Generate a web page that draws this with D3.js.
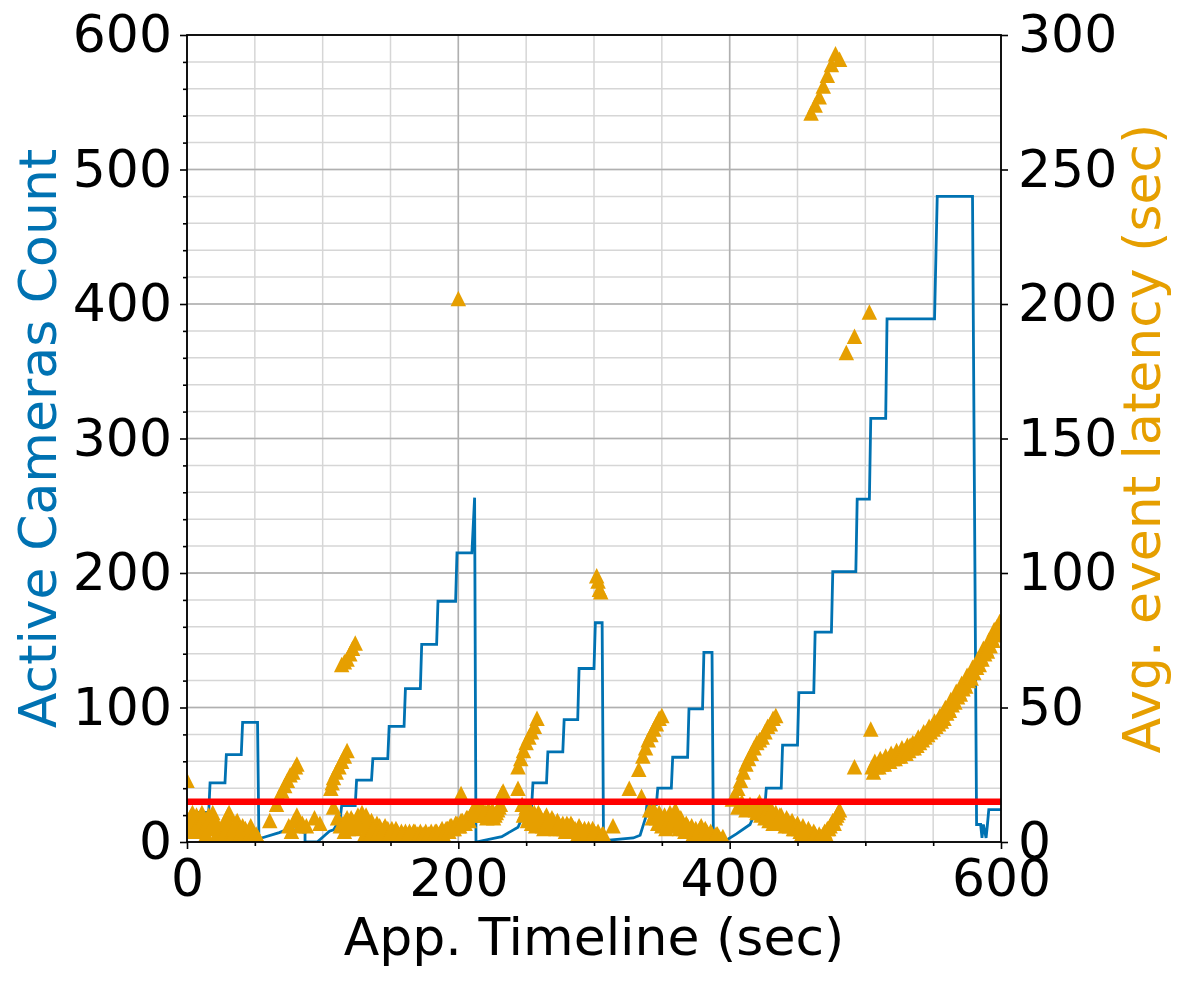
<!DOCTYPE html>
<html>
<head>
<meta charset="utf-8">
<script src="https://cdn.jsdelivr.net/npm/d3@7"></script>
<style>
  body { margin: 0; background: #fff; }
  svg { display: block; font-family: "DejaVu Sans", sans-serif; }
</style>
</head>
<body>
<div id="chart"></div>
<script>
// ── Data ───────────────────────────────────────────────────────────────────

var xTicks = [0, 200, 400, 600];
var leftTicks = [0, 100, 200, 300, 400, 500, 600];
var rightTicks = [0, 50, 100, 150, 200, 250, 300];
var sloLatency = 15; // red threshold, right axis (sec)

// [time (sec), active cameras]
var cameraPoints = [
  [0, 5], [7, 22], [16, 22], [17, 44], [28, 44], [29, 65], [40, 65], [41, 89], [52, 89], [53, 2],
  [55, 3], [68, 7], [73, 9], [80, 9], [87, 7], [87, 0], [96, 0], [105, 8], [108, 9], [111, 14],
  [113, 18], [114, 27], [124, 27], [125, 46], [136, 46], [137, 62], [148, 62], [149, 86], [160, 86],
  [161, 114], [172, 114], [173, 147], [184, 147], [185, 179], [198, 179], [199, 215], [210, 215],
  [212, 256], [213, 0], [232, 4], [244, 11], [247, 18], [249, 26], [254, 26], [255, 44], [265, 44],
  [266, 67], [277, 67], [278, 91], [288, 91], [289, 129], [300, 129], [301, 163], [306, 163], [307, 1],
  [329, 3], [334, 5], [338, 18], [339, 28], [346, 28], [347, 40], [357, 40], [358, 63], [369, 63],
  [370, 99], [380, 99], [381, 141], [387, 141], [388, 1], [397, 1], [405, 6], [415, 13], [418, 20],
  [420, 27], [426, 27], [427, 40], [438, 40], [439, 72], [450, 72], [451, 111], [462, 111], [463, 156],
  [475, 156], [476, 201], [493, 201], [494, 255], [503, 255], [504, 315], [515, 315], [516, 389],
  [551, 389], [553, 480], [579, 480], [582, 13], [585, 13], [586, 3], [587, 13], [589, 3], [590, 13],
  [591, 24], [600, 24]
];

// [time (sec), avg event latency (sec)]
var latencyPoints = [
  [0, 23], [1, 4], [2, 9], [3, 6], [4, 11], [5, 8], [6, 5], [7, 10], [8, 7], [9, 4], [10, 8], [11, 11],
  [12, 9], [13, 6], [14, 3], [15, 7], [16, 10], [17, 5], [18, 8], [19, 11], [20, 8], [21, 5], [22, 3],
  [23, 6], [24, 4], [25, 5], [26, 3], [27, 6], [28, 4], [29, 7], [30, 10], [31, 11], [32, 6], [33, 4],
  [34, 3], [35, 5], [36, 7], [37, 8], [38, 5], [39, 3], [40, 4], [41, 6], [42, 3], [43, 5], [44, 4],
  [45, 2], [46, 3], [47, 6], [48, 4], [49, 3], [50, 2], [51, 3], [52, 2], [53, 1],
  [61, 8], [66, 14], [68, 17], [70, 19], [72, 21], [74, 23], [76, 25], [78, 26], [80, 28], [81, 29],
  [75, 6], [77, 4], [79, 8], [81, 10], [83, 6], [85, 7], [88, 6], [94, 9],
  [98, 7], [106, 20], [107, 22], [108, 24], [110, 26], [112, 28], [114, 30], [116, 32], [118, 34],
  [108, 13], [111, 9], [113, 6],
  [114, 66], [116, 67], [118, 68], [120, 70], [122, 72], [124, 74],
  [115, 7], [116, 4], [118, 9], [120, 6], [122, 8], [124, 5], [126, 10], [128, 7], [130, 9], [131, 3],
  [132, 10], [134, 6], [135, 3], [136, 8], [138, 5], [139, 2], [140, 7], [142, 6], [143, 2], [144, 4],
  [146, 6], [147, 2], [148, 5], [150, 4], [152, 3], [154, 5], [156, 3], [158, 4], [160, 3], [162, 2],
  [164, 4], [166, 3], [168, 4], [170, 3], [172, 4], [174, 3], [176, 4], [178, 3], [180, 4], [182, 3],
  [184, 4], [186, 3], [188, 5], [190, 4], [192, 5], [194, 6], [196, 5], [198, 7], [200, 6], [202, 8],
  [204, 7], [206, 9], [208, 8],
  [117, 8], [119, 5], [121, 9], [123, 6], [125, 8], [127, 6], [129, 11], [133, 7], [137, 5], [141, 4],
  [145, 5], [149, 3], [151, 5], [153, 2], [155, 4], [157, 2], [159, 3], [161, 4], [163, 3], [165, 2],
  [167, 4], [169, 2], [171, 3], [173, 2], [175, 3], [177, 2], [179, 3], [181, 2], [183, 4], [185, 3],
  [187, 4], [189, 3], [191, 5], [193, 4], [195, 6], [197, 5], [199, 7], [201, 6], [203, 8], [205, 7],
  [207, 9], [209, 10],
  [202, 18], [200, 202],
  [210, 11], [212, 10], [214, 13], [216, 12], [218, 10], [220, 11], [222, 12], [224, 10], [226, 9],
  [228, 11], [230, 13], [232, 18], [233, 19], [244, 20],
  [211, 12], [213, 11], [215, 10], [217, 13], [219, 11], [221, 9], [223, 11], [225, 12], [227, 10],
  [229, 12], [231, 14],
  [244, 28], [246, 31], [248, 34], [250, 37], [252, 39], [254, 41], [256, 43], [258, 46],
  [247, 14], [249, 11], [251, 8], [253, 12], [255, 9], [257, 6], [259, 11], [261, 8], [263, 5], [265, 10],
  [267, 7], [269, 9], [271, 6], [273, 8], [275, 5], [277, 7], [279, 4], [281, 6], [283, 7], [285, 5],
  [287, 4], [289, 6], [291, 3], [293, 5], [295, 4], [297, 3], [299, 5], [301, 3], [303, 4], [305, 2],
  [307, 3], [314, 6],
  [248, 10], [250, 13], [252, 9], [254, 7], [256, 11], [258, 8], [260, 10], [262, 6], [264, 9], [266, 8],
  [268, 6], [270, 8], [272, 5], [274, 7], [276, 6], [278, 5], [280, 7], [282, 4], [284, 6], [286, 5],
  [288, 3], [290, 5], [292, 4], [294, 3], [296, 5], [298, 2], [300, 4], [302, 3], [304, 2], [306, 3],
  [302, 99], [303, 97], [304, 94], [305, 93],
  [326, 20], [333, 27], [335, 17], [341, 12],
  [336, 32], [338, 35], [340, 38], [342, 40], [344, 42], [346, 44], [348, 46], [350, 47],
  [343, 9], [345, 11], [347, 7], [349, 10], [351, 8], [353, 5], [355, 9], [357, 6], [359, 10], [361, 8],
  [363, 5], [365, 7], [367, 4], [369, 6], [371, 5], [373, 3], [375, 5], [377, 4], [379, 6], [381, 3],
  [383, 4], [385, 2], [387, 3], [389, 2], [391, 3], [393, 1], [395, 2],
  [344, 12], [346, 9], [348, 11], [350, 6], [352, 10], [354, 7], [356, 11], [358, 8], [360, 12], [362, 6],
  [364, 9], [366, 5], [368, 7], [370, 4], [372, 6], [374, 4], [376, 3], [378, 5], [380, 2], [382, 5],
  [384, 3], [386, 4], [388, 1], [390, 3], [392, 2], [394, 1],
  [402, 16], [404, 17], [406, 20], [408, 23], [410, 26], [412, 29], [414, 31], [416, 33], [418, 35],
  [420, 37], [422, 38], [424, 39], [426, 41], [428, 43], [430, 44], [432, 46], [434, 47],
  [406, 13], [409, 15], [412, 12], [415, 14],
  [418, 13], [420, 11], [422, 15], [424, 12], [426, 9], [428, 13], [430, 10], [432, 7], [434, 11],
  [436, 8], [438, 10], [440, 7], [442, 9], [444, 6], [446, 8], [448, 5], [450, 7], [452, 4], [454, 6],
  [456, 3], [458, 5], [460, 3], [462, 4], [464, 2], [466, 3], [468, 2], [470, 4], [472, 5], [474, 6],
  [476, 8], [478, 9], [480, 11], [481, 12],
  [419, 12], [421, 14], [423, 10], [425, 13], [427, 11], [429, 8], [431, 12], [433, 9], [435, 7],
  [437, 10], [439, 8], [441, 6], [443, 8], [445, 7], [447, 5], [449, 6], [451, 5], [453, 3], [455, 4],
  [457, 2], [459, 4], [461, 2], [463, 3], [465, 1], [467, 2], [469, 3], [471, 3], [473, 5], [475, 7],
  [477, 7], [479, 10],
  [460, 271], [463, 274], [466, 277], [469, 281], [472, 285], [475, 289], [478, 293], [481, 291],
  [486, 182], [492, 188], [503, 197],
  [492, 28], [504, 42],
  [505, 28], [507, 30], [509, 29], [511, 31], [513, 30], [515, 32], [517, 31], [519, 33], [521, 32],
  [523, 34], [525, 33], [527, 35], [529, 34], [531, 36], [533, 36], [535, 37], [537, 37], [539, 39],
  [541, 39], [543, 41], [545, 41], [547, 43], [549, 43], [551, 45], [553, 45], [555, 47], [557, 48],
  [559, 50], [561, 50], [563, 53], [565, 53], [567, 56], [569, 56], [571, 59], [573, 59], [575, 62],
  [577, 62], [579, 65], [581, 66], [583, 68], [585, 69], [587, 72], [589, 72], [591, 75], [593, 76],
  [595, 79], [597, 80], [599, 82],
  [506, 26], [508, 28], [510, 28], [512, 29], [514, 29], [516, 30], [518, 30], [520, 31], [522, 31],
  [524, 32], [526, 32], [528, 33], [530, 33], [532, 34], [534, 35], [536, 35], [538, 36], [540, 37],
  [542, 38], [544, 39], [546, 40], [548, 41], [550, 42], [552, 43], [554, 44], [556, 45], [558, 46],
  [560, 48], [562, 49], [564, 51], [566, 52], [568, 54], [570, 55], [572, 57], [574, 58], [576, 60],
  [578, 61], [580, 63], [582, 65], [584, 66], [586, 68], [588, 70], [590, 71], [592, 73], [594, 75],
  [596, 77], [598, 78], [600, 80]
];

// ── Layout ─────────────────────────────────────────────────────────────────

var W = 1190, H = 983;
var plot = { left: 187, right: 1001, top: 35, bottom: 842 };

var blue = '#0072B2';
var orange = '#E69F00';

var x = d3.scaleLinear().domain([0, 600]).range([plot.left, plot.right]);
var yL = d3.scaleLinear().domain([0, 600]).range([plot.bottom, plot.top]);
var yR = d3.scaleLinear().domain([0, 300]).range([plot.bottom, plot.top]);

var svg = d3.select('#chart').append('svg')
  .attr('width', W)
  .attr('height', H);

svg.append('defs').append('clipPath').attr('id', 'clip')
  .append('rect')
  .attr('x', plot.left).attr('y', plot.top)
  .attr('width', plot.right - plot.left).attr('height', plot.bottom - plot.top);

// grid: minor first, major on top
var grid = svg.append('g');
var xMinor = d3.range(0, 601, 50);
var yMinor = d3.range(0, 601, 20);

grid.selectAll('.vminor').data(xMinor).join('line')
  .attr('x1', function(d) { return x(d); }).attr('x2', function(d) { return x(d); })
  .attr('y1', plot.top).attr('y2', plot.bottom)
  .attr('stroke', '#d6d6d6').attr('stroke-width', 1.5);
grid.selectAll('.hminor').data(yMinor).join('line')
  .attr('y1', function(d) { return yL(d); }).attr('y2', function(d) { return yL(d); })
  .attr('x1', plot.left).attr('x2', plot.right)
  .attr('stroke', '#d6d6d6').attr('stroke-width', 1.5);
grid.selectAll('.vmajor').data(xTicks).join('line')
  .attr('x1', function(d) { return x(d); }).attr('x2', function(d) { return x(d); })
  .attr('y1', plot.top).attr('y2', plot.bottom)
  .attr('stroke', '#b0b0b0').attr('stroke-width', 1.5);
grid.selectAll('.hmajor').data(leftTicks).join('line')
  .attr('y1', function(d) { return yL(d); }).attr('y2', function(d) { return yL(d); })
  .attr('x1', plot.left).attr('x2', plot.right)
  .attr('stroke', '#b0b0b0').attr('stroke-width', 1.5);

// active cameras line
var line = d3.line()
  .x(function(d) { return x(d[0]); })
  .y(function(d) { return yL(d[1]); });

svg.append('path')
  .datum(cameraPoints)
  .attr('clip-path', 'url(#clip)')
  .attr('d', line)
  .attr('fill', 'none')
  .attr('stroke', blue)
  .attr('stroke-width', 2.8)
  .attr('stroke-linejoin', 'miter');

// latency markers, matplotlib-style '^' (square bbox)
var triUp = {
  draw: function(ctx, size) {
    var r = Math.sqrt(size) / 2;
    ctx.moveTo(0, -r);
    ctx.lineTo(r, r);
    ctx.lineTo(-r, r);
    ctx.closePath();
  }
};

svg.append('g')
  .attr('clip-path', 'url(#clip)')
  .selectAll('path')
  .data(latencyPoints)
  .join('path')
  .attr('transform', function(d) { return 'translate(' + x(d[0]) + ',' + yR(d[1]) + ')'; })
  .attr('d', d3.symbol(triUp, 240))
  .attr('fill', orange);

// threshold
svg.append('line')
  .attr('x1', plot.left).attr('x2', plot.right)
  .attr('y1', yR(sloLatency)).attr('y2', yR(sloLatency))
  .attr('stroke', '#ff0000')
  .attr('stroke-width', 6.5);

// ── Axes ───────────────────────────────────────────────────────────────────

function styleAxis(g) {
  g.select('.domain').remove();
  g.selectAll('.tick line').attr('stroke', '#000').attr('stroke-width', 1.6);
  g.selectAll('.tick text').attr('font-size', 52).attr('fill', '#000')
    .attr('font-family', '"DejaVu Sans", sans-serif');
}

svg.append('g')
  .attr('transform', 'translate(0,' + plot.bottom + ')')
  .call(d3.axisBottom(x).tickValues(xTicks).tickSize(7).tickPadding(10))
  .call(styleAxis);

svg.append('g')
  .attr('transform', 'translate(0,' + plot.bottom + ')')
  .call(d3.axisBottom(x).tickValues(xMinor.filter(function(v) { return v % 200; })).tickSize(4).tickFormat(''))
  .call(styleAxis);

svg.append('g')
  .attr('transform', 'translate(' + plot.left + ',0)')
  .call(d3.axisLeft(yL).tickValues(leftTicks).tickSize(7).tickPadding(8))
  .call(styleAxis);

svg.append('g')
  .attr('transform', 'translate(' + plot.left + ',0)')
  .call(d3.axisLeft(yL).tickValues(yMinor.filter(function(v) { return v % 100; })).tickSize(4).tickFormat(''))
  .call(styleAxis);

svg.append('g')
  .attr('transform', 'translate(' + plot.right + ',0)')
  .call(d3.axisRight(yR).tickValues(rightTicks).tickSize(7).tickPadding(10))
  .call(styleAxis);

// spines
svg.append('rect')
  .attr('x', plot.left).attr('y', plot.top)
  .attr('width', plot.right - plot.left).attr('height', plot.bottom - plot.top)
  .attr('fill', 'none')
  .attr('stroke', '#000')
  .attr('stroke-width', 1.8);

// axis titles
svg.append('text')
  .attr('x', (plot.left + plot.right) / 2).attr('y', 955)
  .attr('text-anchor', 'middle')
  .attr('font-size', 52)
  .text('App. Timeline (sec)');

svg.append('text')
  .attr('transform', 'translate(56,' + (plot.top + plot.bottom) / 2 + ') rotate(-90)')
  .attr('text-anchor', 'middle')
  .attr('font-size', 52)
  .attr('fill', blue)
  .text('Active Cameras Count');

svg.append('text')
  .attr('transform', 'translate(1160,' + (plot.top + plot.bottom) / 2 + ') rotate(-90)')
  .attr('text-anchor', 'middle')
  .attr('font-size', 52)
  .attr('fill', orange)
  .text('Avg. event latency (sec)');
</script>
</body>
</html>
